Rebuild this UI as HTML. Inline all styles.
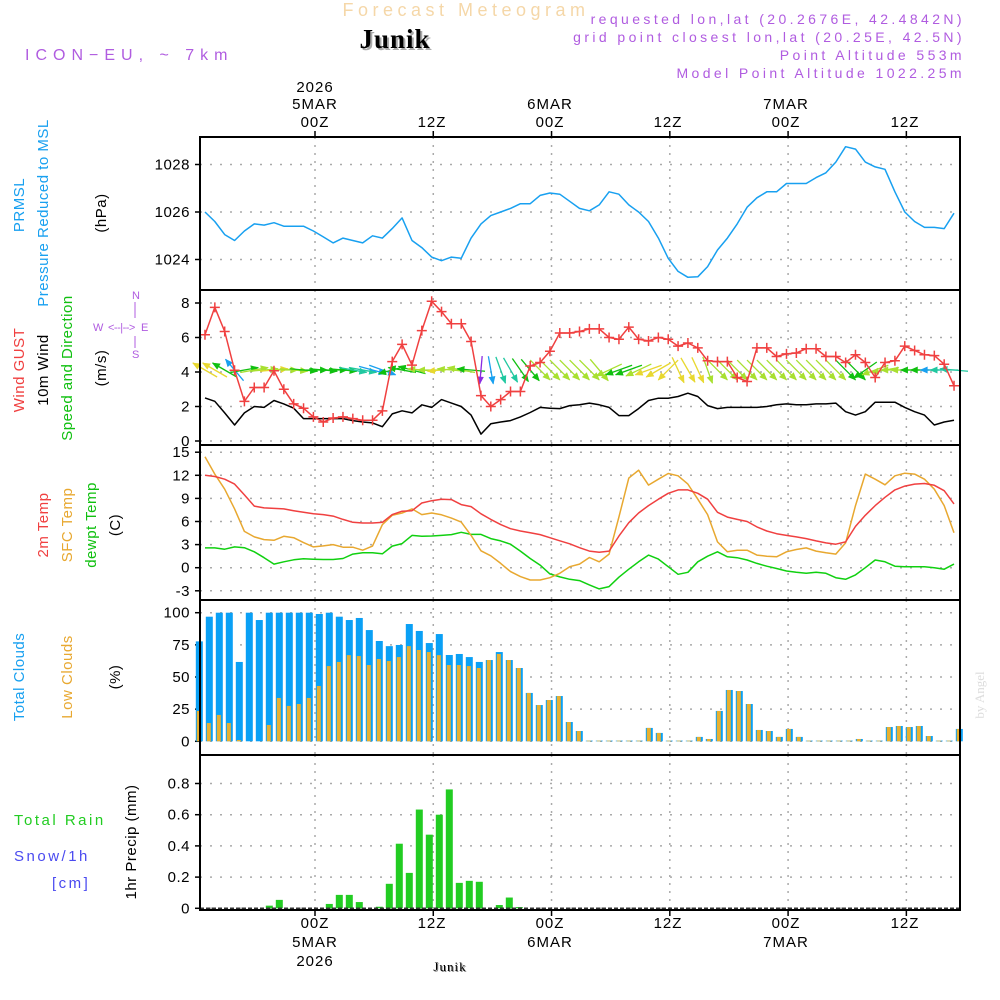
<!DOCTYPE html>
<html><head><meta charset="utf-8"><style>
html,body{margin:0;padding:0;background:#fff;}
svg{display:block;font-family:"Liberation Sans",sans-serif;}
</style></head><body>
<svg id="chart" width="1000" height="1000" viewBox="0 0 1000 1000">
<g id="static">
<text x="466" y="16" font-size="18" fill="#f5d7a8" text-anchor="middle" letter-spacing="4.5">Forecast Meteogram</text>
<text x="397" y="50" font-size="27" font-weight="bold" font-family="Liberation Serif,serif" fill="#aaa" text-anchor="middle" letter-spacing="1">Junik</text>
<text x="395" y="48" font-size="27" font-weight="bold" font-family="Liberation Serif,serif" fill="#000" text-anchor="middle" letter-spacing="1">Junik</text>
<text x="25" y="60" font-size="16" fill="#b05ce0" letter-spacing="6">ICON−EU, ~ 7km</text>
<g font-size="14" fill="#b05ce0" text-anchor="end" letter-spacing="3.4">
<text x="965" y="24">requested lon,lat (20.2676E, 42.4842N)</text>
<text x="965" y="42">grid point closest lon,lat (20.25E, 42.5N)</text>
<text x="965" y="60">Point Altitude 553m</text>
<text x="965" y="78">Model Point Altitude 1022.25m</text>
</g>
<g font-size="15" fill="#000" text-anchor="middle" letter-spacing="1">
<text x="315" y="92">2026</text><text x="315" y="109">5MAR</text><text x="315" y="127">00Z</text>
<text x="432" y="127">12Z</text>
<text x="550" y="109">6MAR</text><text x="550" y="127">00Z</text>
<text x="668" y="127">12Z</text>
<text x="786" y="109">7MAR</text><text x="786" y="127">00Z</text>
<text x="905" y="127">12Z</text>
</g>
<g font-size="15" fill="#000" text-anchor="middle" letter-spacing="1">
<text x="315" y="928">00Z</text><text x="315" y="947">5MAR</text><text x="315" y="966">2026</text>
<text x="432" y="928">12Z</text>
<text x="550" y="928">00Z</text><text x="550" y="947">6MAR</text>
<text x="668" y="928">12Z</text>
<text x="786" y="928">00Z</text><text x="786" y="947">7MAR</text>
<text x="905" y="928">12Z</text>
</g>
<text x="451" y="972" font-size="13" font-family="Liberation Serif,serif" fill="#888" text-anchor="middle" letter-spacing="1">Junik</text>
<text x="450" y="971" font-size="13" font-family="Liberation Serif,serif" fill="#000" text-anchor="middle" letter-spacing="1">Junik</text>
<text transform="translate(984,695) rotate(-90)" font-size="13" font-family="Liberation Serif,serif" fill="#ddd" text-anchor="middle">by Angel</text>

<g font-size="15" text-anchor="middle" letter-spacing="0.5">
<text transform="translate(24,205) rotate(-90)" fill="#18a0f0">PRMSL</text>
<text transform="translate(48,213) rotate(-90)" fill="#18a0f0">Pressure Reduced to MSL</text>
<text transform="translate(106,213) rotate(-90)" fill="#000">(hPa)</text>
<text transform="translate(24,370) rotate(-90)" fill="#f04040">Wind GUST</text>
<text transform="translate(48,370) rotate(-90)" fill="#000">10m Wind</text>
<text transform="translate(72,368) rotate(-90)" fill="#10c010">Speed and Direction</text>
<text transform="translate(106,368) rotate(-90)" fill="#000">(m/s)</text>
<text transform="translate(48,525) rotate(-90)" fill="#f04040">2m Temp</text>
<text transform="translate(72,525) rotate(-90)" fill="#e8a830">SFC Temp</text>
<text transform="translate(96,525) rotate(-90)" fill="#10c010">dewpt Temp</text>
<text transform="translate(120,525) rotate(-90)" fill="#000">(C)</text>
<text transform="translate(24,677) rotate(-90)" fill="#18a0f0">Total Clouds</text>
<text transform="translate(72,677) rotate(-90)" fill="#e8a830">Low Clouds</text>
<text transform="translate(120,677) rotate(-90)" fill="#000">(%)</text>
<text transform="translate(136,842) rotate(-90)" fill="#000">1hr Precip (mm)</text>
</g>
<g font-size="15" letter-spacing="2.5">
<text x="14" y="825" fill="#22cc22">Total  Rain</text>
<text x="14" y="861" fill="#4a4af0">Snow/1h</text>
<text x="52" y="888" fill="#4a4af0">[cm]</text>
</g>
<g fill="#b05ce0" stroke="#b05ce0" font-size="11">
<text x="132" y="299" stroke="none">N</text>
<text x="132" y="358" stroke="none">S</text>
<text x="93" y="331" stroke="none">W</text>
<text x="141" y="331" stroke="none">E</text>
<text x="108" y="331" stroke="none" letter-spacing="-0.5">&lt;--|--&gt;</text>
<line x1="135" y1="302" x2="135" y2="318" stroke-width="1"/>
<line x1="135" y1="336" x2="135" y2="348" stroke-width="1"/>
</g>
</g>
<g id="plots"></g>
</svg>
<script>
// ---------- data (hourly, hours -11 .. 65 relative to 00Z 5MAR) ----------
const hourStart = -11;
const pressure = [1026.0,1025.6,1025.05,1024.8,1025.2,1025.5,1025.45,1025.55,1025.4,1025.4,1025.4,1025.2,1024.95,1024.7,1024.9,1024.8,1024.7,1025.0,1024.9,1025.3,1025.75,1024.8,1024.5,1024.1,1023.95,1024.1,1024.05,1024.9,1025.5,1025.85,1026.0,1026.15,1026.35,1026.35,1026.7,1026.8,1026.75,1026.45,1026.15,1026.05,1026.3,1026.85,1026.75,1026.3,1026.0,1025.6,1024.9,1024.05,1023.5,1023.25,1023.27,1023.7,1024.4,1024.9,1025.5,1026.2,1026.6,1026.85,1026.85,1027.2,1027.2,1027.2,1027.45,1027.65,1028.1,1028.75,1028.65,1028.1,1027.9,1027.8,1026.85,1026.0,1025.6,1025.35,1025.35,1025.3,1025.95];
const windGust = [6.16,7.75,6.35,4.1,2.3,3.1,3.1,4.07,3.0,2.15,1.9,1.4,1.1,1.33,1.4,1.3,1.2,1.2,1.75,4.6,5.6,4.4,6.4,8.1,7.5,6.8,6.8,5.77,2.63,2.0,2.4,2.87,2.87,4.35,4.55,5.2,6.26,6.26,6.35,6.5,6.5,6.0,5.9,6.6,5.9,5.8,6.0,5.9,5.5,5.68,5.4,4.65,4.6,4.6,3.68,3.45,5.4,5.4,4.9,5.05,5.1,5.35,5.35,4.9,4.9,4.55,5.0,4.55,3.68,4.55,4.65,5.5,5.25,5.0,4.95,4.45,3.2];
const wind10m = [2.5,2.3,1.63,0.93,1.63,2.0,1.95,2.35,2.15,1.9,1.3,1.3,1.3,1.3,1.3,1.18,1.1,1.05,0.83,1.57,1.75,1.63,2.1,1.95,2.4,2.2,2.0,1.5,0.4,1.0,1.1,1.18,1.4,1.65,1.95,1.9,1.88,2.05,2.1,2.2,2.1,1.95,1.47,1.47,1.88,2.35,2.48,2.48,2.58,2.77,2.58,2.05,1.88,1.95,1.95,1.95,1.95,2.0,2.1,2.15,2.1,2.1,2.15,2.15,2.2,1.7,1.5,1.7,2.25,2.25,2.25,1.95,1.7,1.5,0.93,1.1,1.2];
const windDir = [150,150,150,130,10,10,5,5,0,-5,-5,0,-5,0,-5,-10,-10,-15,-20,195,170,165,175,180,185,175,170,175,-95,-80,-70,-60,-55,-50,-45,-45,-45,-45,-45,-45,-50,205,200,200,205,200,210,225,-65,-60,-65,-70,-45,-45,-45,-45,-45,-45,-45,-45,-45,-45,-45,-45,-45,-45,-45,215,200,190,180,180,180,180,180,180,175];
const temp2m = [12.0,11.85,11.5,10.86,9.45,8.0,7.77,7.7,7.64,7.4,7.2,7.0,6.9,6.7,6.27,5.9,5.8,5.8,5.9,6.9,7.34,7.4,8.4,8.7,8.9,8.85,8.2,7.94,7.0,6.27,5.6,5.06,4.76,4.55,4.3,3.9,3.5,3.1,2.6,2.15,2.0,2.15,4.1,5.84,7.1,8.07,8.9,9.66,10.1,10.1,9.66,8.9,7.2,6.57,6.27,6.0,5.3,4.76,4.42,4.2,4.0,3.78,3.48,3.22,3.05,3.35,5.36,6.8,8.07,9.14,10.1,10.6,10.86,10.94,10.7,10.0,8.28];
const tempSfc = [14.4,12.15,10.2,7.64,4.72,4.0,3.65,3.56,4.08,3.9,3.26,2.7,2.83,3.0,2.66,2.66,2.27,2.8,5.6,6.8,7.1,7.64,6.9,7.1,6.87,6.44,5.92,4.2,2.2,1.55,0.56,-0.5,-1.16,-1.6,-1.6,-1.3,-0.73,0.13,0.47,1.33,0.77,1.76,6.57,11.63,12.66,10.73,11.5,12.23,11.93,10.86,8.9,6.9,3.35,2.06,2.27,2.27,1.63,1.5,1.42,2.06,2.36,2.57,2.15,1.93,1.76,3.22,8.07,12.15,11.5,10.77,11.93,12.27,12.15,11.5,10.2,8.07,4.55];
const tempDew = [2.57,2.57,2.4,2.7,2.6,2.06,1.3,0.47,0.77,1.03,1.16,1.1,1.07,1.07,1.2,1.76,1.93,1.93,1.8,2.8,3.13,4.2,4.08,4.12,4.2,4.3,4.6,4.33,4.33,3.78,3.48,3.05,2.15,1.2,0.34,-0.8,-1.2,-1.5,-1.67,-2.23,-2.75,-2.45,-1.24,-0.2,0.77,1.63,1.12,0.13,-0.86,-0.6,0.77,1.5,2.06,1.42,1.3,1.0,0.56,0.2,-0.1,-0.43,-0.6,-0.73,-0.6,-0.73,-1.3,-1.5,-0.94,0,1.0,0.77,0.2,0.13,0.13,0.13,0,-0.2,0.47];
const cloudTotal = [77.7,96.9,100,100,61.7,100,94.3,100,100,100,100,100,99,100,96.9,94.3,95.9,86.5,78,74,74.9,91.2,85.8,76.4,83.4,67.1,67.9,65.5,61.7,63.2,69.4,63.2,57,37.6,28.2,32.1,35.2,15,8,0.5,0.5,0.5,0.5,0.5,0.5,10.4,6.5,0.5,0.5,0.5,3.4,1.8,23.6,39.9,39.1,29,8.8,8,3.4,9.6,3.4,0.5,0.5,0.5,0.5,0.5,1.8,0.5,0.5,11.1,11.9,11.1,11.9,4.1,0.5,0.5,9.6];
const cloudLow = [23.6,14.2,20.5,14.2,1,0,0,12.7,33.7,27.5,29,33.7,43,58.5,61.7,67,66.3,59.3,64,62.4,65.5,74,71,69.4,67,59.3,59.3,58.5,57,63.2,67.9,63.2,57,37.6,28.2,32.1,35.2,15,8,0.5,0.5,0.5,0.5,0.5,0.5,10.4,6.5,0.5,0.5,0.5,3.4,1.8,23.6,39.9,39.1,29,8.8,8,3.4,9.6,3.4,0.5,0.5,0.5,0.5,0.5,1.8,0.5,0.5,11.1,11.9,11.1,11.9,4.1,0.5,0.5,9.6];
const precip = [0,0,0,0,0,0,0,0.017,0.054,0.002,0,0,0,0.028,0.086,0.086,0.04,0,0.01,0.157,0.414,0.227,0.633,0.472,0.6,0.762,0.163,0.176,0.17,0,0.021,0.069,0.008,0,0,0,0,0,0,0,0,0,0,0,0,0,0,0,0,0,0,0,0,0,0,0,0,0,0,0,0,0,0,0,0,0,0,0,0,0,0,0,0,0,0,0,0];
const pressTicks = [1024,1026,1028];
const windTicks = [0,2,4,6,8];
const tempTicks = [-3,0,3,6,9,12,15];
const cloudTicks = [0,25,50,75,100];
const precipTicks = [0,0.2,0.4,0.6,0.8];
const timeTicks = [0,12,24,36,48,60];

// ---------- axes ----------
const X0 = 200, X1 = 960;
const xh = h => 313.4 + h * 9.856;
const xb = h => 309.3 + h * 10;
const yP = v => 212 - (v - 1026) * 23.75;
const yW = v => 441 - v * 17.25;
const yT = v => 567.7 - v * 7.7;
const yC = v => 741.3 - v * 1.286;
const yR = v => 908.3 - v * 156;
const panels = [
 {name:'pressure', top:137, bot:290, ticks:pressTicks, y:yP, fmt:v=>String(v)},
 {name:'wind', top:290, bot:445, ticks:windTicks, y:yW, fmt:v=>String(v)},
 {name:'temp', top:445, bot:600, ticks:tempTicks, y:yT, fmt:v=>String(v)},
 {name:'clouds', top:600, bot:755, ticks:cloudTicks, y:yC, fmt:v=>String(v)},
 {name:'precip', top:755, bot:910, ticks:precipTicks, y:yR, fmt:v=>v===0?'0':String(v)}
];
const NS = 'http://www.w3.org/2000/svg';
const plots = document.getElementById('plots');
function mk(tag, attrs, parent){
  const e = document.createElementNS(NS, tag);
  for (const k in attrs) e.setAttribute(k, attrs[k]);
  (parent||plots).appendChild(e);
  return e;
}
const hours = pressure.map((_, i) => hourStart + i);

panels.forEach(p => {
  const g = mk('g', {});
  
  
  p.g = g;
  p.ticks.forEach(v => {
    const y = p.y(v);
    const gl = mk('line', {x1:X0, x2:X1, y1:y, y2:y, stroke:'#aaa', 'stroke-width':1.5, 'stroke-dasharray':'2,8'}, g);
    
    
    mk('line', {x1:X0-5, x2:X0, y1:y, y2:y, stroke:'#000', 'stroke-width':1.5}, g);
    const t = mk('text', {x:X0-10, y:y+5, 'font-size':15, 'text-anchor':'end', fill:'#000', 'letter-spacing':0.5}, g);
    t.textContent = p.fmt(v);
    
    
  });
  timeTicks.forEach(h => {
    const x = xh(h) + 1.6;
    const vl = mk('line', {x1:x, x2:x, y1:p.top, y2:p.bot, stroke:'#aaa', 'stroke-width':1.5, 'stroke-dasharray':'2,6'}, g);
    
    
  });
});
timeTicks.forEach(h => {
  const x = xh(h) + 1.6;
  mk('line', {x1:x, x2:x, y1:131, y2:137, stroke:'#000', 'stroke-width':1.5});
  mk('line', {x1:x, x2:x, y1:910, y2:916, stroke:'#000', 'stroke-width':1.5});
});

function line(arr, yf, color, name, parent, w){
  const pts = arr.map((v, i) => xh(hours[i]).toFixed(1) + ',' + yf(v).toFixed(1)).join(' ');
  const pl = mk('polyline', {points:pts, fill:'none', stroke:color, 'stroke-width':w||1.5, 'stroke-linejoin':'round'}, parent);
  
  
  return pl;
}
line(pressure, yP, '#18a0f0', 'pressure-line', panels[0].g);
const windColor = v => v < 0.6 ? '#8a2be2' : v < 1.1 ? '#18a0f0' : v < 1.25 ? '#20c8a0' : v < 1.8 ? '#10c010' : v < 2.3 ? '#a8e030' : '#e8d830';
line(wind10m, yW, '#000', 'wind-10m-line', panels[1].g);
wind10m.forEach((v, i) => {
  const a = windDir[i] * Math.PI / 180, L = 28;
  const cx = xh(hours[i]), cy = 370;
  const ux = Math.cos(a), uy = -Math.sin(a);
  const hx = cx + ux * L / 2, hy = cy + uy * L / 2, tx = cx - ux * L / 2, ty = cy - uy * L / 2;
  const c = windColor(v);
  const ag = mk('g', {stroke:c, 'stroke-width':1.3, fill:c}, panels[1].g);
  
  
  mk('line', {x1:tx, y1:ty, x2:hx, y2:hy}, ag);
  const px = -uy, py = ux;
  const bx = hx - ux * 7, by = hy - uy * 7;
  mk('polygon', {points:`${hx},${hy} ${bx+px*3},${by+py*3} ${bx-px*3},${by-py*3}`, 'stroke-width':0.6}, ag);
});
line(windGust, yW, '#f04040', 'wind-gust-line', panels[1].g);
windGust.forEach((v, i) => {
  const x = xh(hours[i]), y = yW(v);
  const m = mk('path', {d:`M${x-5},${y}H${x+5}M${x},${y-5}V${y+5}`, stroke:'#f04040', 'stroke-width':1.5}, panels[1].g);
  
  
});
line(tempDew, yT, '#10d010', 'dewpoint-line', panels[2].g);
line(tempSfc, yT, '#e8a830', 'sfc-temp-line', panels[2].g);
line(temp2m, yT, '#f04040', 'temp-2m-line', panels[2].g);
cloudTotal.forEach((v, i) => {
  const x = xb(hours[i]);
  const r = mk('rect', {x:x-3.5, y:yC(v), width:7, height:yC(0)-yC(v), fill:'#0aa0f5'}, panels[3].g);
  
  
  const lv = cloudLow[i];
  const r2 = mk('rect', {x:x-2.5, y:yC(lv), width:4, height:yC(0)-yC(lv), fill:'#e8b030'}, panels[3].g);
  
  
});
precip.forEach((v, i) => {
  if (v <= 0) return;
  const x = xb(hours[i]);
  const r = mk('rect', {x:x-3.5, y:yR(v), width:7, height:yR(0)-yR(v), fill:'#22cc22'}, panels[4].g);
  
  
});
const sn = mk('line', {x1:X0, x2:X1, y1:yR(0), y2:yR(0), stroke:'#333', 'stroke-width':1.5, 'stroke-dasharray':'4,2'}, panels[4].g);


panels.forEach(p => {
  const f = mk('rect', {x:X0, y:p.top, width:X1-X0, height:p.bot-p.top, fill:'none', stroke:'#000', 'stroke-width':2});
  
  
});
</script>
</body></html>
